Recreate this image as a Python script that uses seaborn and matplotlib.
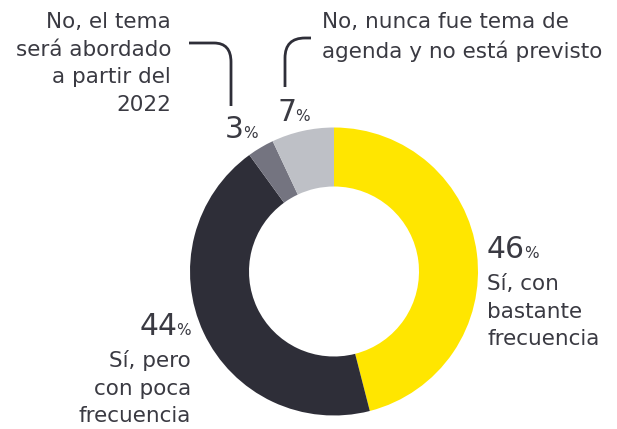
import matplotlib
matplotlib.use("Agg")
import matplotlib.pyplot as plt
import seaborn as sns
from matplotlib.path import Path
from matplotlib.patches import PathPatch

# Datos
categorias = ['Sí, con\nbastante\nfrecuencia',
              'Sí, pero\ncon poca\nfrecuencia',
              'No, el tema\nserá abordado\na partir del\n2022',
              'No, nunca fue tema de\nagenda y no está previsto']
valores = [46, 44, 3, 7]
colores = ['#FFE600', '#2E2E38', '#747480', '#BEC0C6']

W, H = 617, 429
TXT = '#3A3A42'

sns.set_theme(style='white')
plt.rcParams['font.family'] = ['DejaVu Sans']

fig = plt.figure(figsize=(W / 100, H / 100), dpi=100)
ax = fig.add_axes([0, 0, 1, 1])

def Y(y):
    # coordenadas de píxel con origen arriba
    return H - y

cx, cy, r = 334, 271.5, 144
ax.pie(valores, colors=colores, startangle=90, counterclock=False,
       center=(cx, Y(cy)), radius=r,
       wedgeprops=dict(width=59, edgecolor='none', linewidth=0))
ax.set_xlim(0, W)
ax.set_ylim(0, H)
ax.set_aspect('equal')
ax.axis('off')

renderer = fig.canvas.get_renderer()

def pct(x, y, v, ha='left'):
    t = ax.text(x, Y(y), f'{v}', fontsize=21.5, color=TXT, ha='left', va='baseline')
    bb = t.get_window_extent(renderer)
    if ha == 'right':
        # mover número para que el % termine en x
        p = ax.text(0, 0, '%', fontsize=11, color=TXT)
        pw = p.get_window_extent(renderer).width
        p.remove()
        t.set_x(x - pw + 1 - bb.width)
        bb = t.get_window_extent(renderer)
    ax.text(bb.x1 - 1, Y(y), '%', fontsize=11, color=TXT, ha='left', va='baseline')

# porcentajes
pct(487, 258, valores[0])
pct(191, 335, valores[1], ha='right')
pct(225, 138, valores[2])
pct(277, 121, valores[3])

# etiquetas
ax.text(487, Y(274), categorias[0], fontsize=15.5, color=TXT, ha='left', va='top', linespacing=1.47)
ax.text(191, Y(350), categorias[1], fontsize=15.5, color=TXT, ha='right', va='top', linespacing=1.47)
ax.text(171, Y(12), categorias[2], fontsize=15.5, color=TXT, ha='right', va='top', linespacing=1.47)
ax.text(322, Y(12), categorias[3], fontsize=15.5, color=TXT, ha='left', va='top', linespacing=1.47)

# líneas conectoras
def conector(pts, codes):
    path = Path([(x, Y(y)) for x, y in pts], codes)
    ax.add_patch(PathPatch(path, facecolor='none', edgecolor='#2E2E38', lw=2))

conector([(189, 43), (214, 43), (231, 43), (231, 62), (231, 106)],
         [Path.MOVETO, Path.LINETO, Path.CURVE3, Path.CURVE3, Path.LINETO])
conector([(285, 87), (285, 58), (285, 38), (305, 38), (311, 38)],
         [Path.MOVETO, Path.LINETO, Path.CURVE3, Path.CURVE3, Path.LINETO])

fig.savefig('out.png', dpi=100)
